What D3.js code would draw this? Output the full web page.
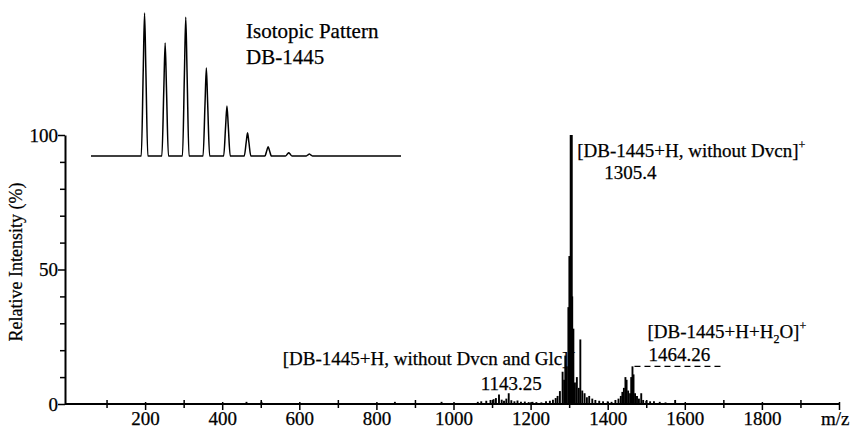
<!DOCTYPE html>
<html>
<head>
<meta charset="utf-8">
<script src="https://cdn.jsdelivr.net/npm/d3@7"></script>
<style>
  body { margin: 0; background: #fff; }
  svg text { font-family: "Liberation Serif", "Times New Roman", serif; fill: #000; stroke: #000; stroke-width: 0.25; }
</style>
</head>
<body>
<svg id="chart" width="852" height="433"></svg>
<script>
// spectrum sticks (m/z, relative intensity %)
var mz = [463, 502, 848, 969,
  1063, 1072, 1085, 1096, 1104, 1110, 1118, 1125, 1131, 1137, 1143.25, 1150, 1158, 1166, 1175, 1185, 1195, 1205, 1215, 1228, 1240, 1250,
  1258, 1265, 1270, 1276, 1283, 1287, 1290, 1294, 1298, 1302, 1305.4, 1308, 1311, 1315, 1320, 1325, 1329, 1334, 1340, 1346, 1352, 1360, 1368, 1378, 1388, 1400, 1410,
  1420, 1428, 1434, 1438, 1442, 1446, 1449, 1453, 1458, 1461, 1464.26, 1467, 1471, 1476, 1481, 1487, 1492, 1500, 1510, 1520, 1535, 1550, 1575];
var intensity = [0.8, 0.8, 0.8, 0.8,
  0.8, 1.0, 1.2, 1.5, 1.8, 2.2, 3.5, 1.6, 1.2, 2.0, 4.0, 1.4, 1.0, 1.3, 0.8, 0.9, 0.7, 0.8, 0.7, 0.6, 1.0, 1.2,
  1.6, 2.2, 3.0, 4.8, 12, 9, 18, 14, 36, 55, 100, 40, 28, 8, 10, 6, 24, 5, 4, 2.5, 3, 2, 1.5, 1.2, 1.0, 1.0, 0.8,
  1.5, 2.0, 3.0, 4.5, 6, 10, 9, 5, 4, 10, 14, 11, 4, 3, 2, 4, 1.5, 1.2, 1.0, 1.0, 0.8, 0.6, 1.5];

// isotopic pattern inset
var isoMass = [1445, 1446, 1447, 1448, 1449, 1450, 1451, 1452, 1453];
var isoAbund = [100, 79, 97, 61.5, 35, 16.3, 6.5, 2.3, 1.4];

var xTicksMajor = [200, 400, 600, 800, 1000, 1200, 1400, 1600, 1800, 2000];
var xTicksMinor = [100, 300, 500, 700, 900, 1100, 1300, 1500, 1700, 1900];
var yTicksMajor = [0, 50, 100];
var yTicksMinor = [10, 20, 30, 40, 60, 70, 80, 90];

var svg = d3.select("#chart");

var x = d3.scaleLinear().domain([0, 2000]).range([68, 839]);
var y = d3.scaleLinear().domain([0, 100]).range([404, 135]);

// axes
var xAxis = svg.append("g").attr("transform", "translate(0," + y(0) + ")");
xAxis.call(d3.axisBottom(x).tickValues(xTicksMajor).tickSize(6).tickSizeOuter(0)
    .tickFormat(function(d) { return d === 2000 ? "m/z" : d; }));
xAxis.select(".domain").attr("d", "M65,0H839").attr("stroke-width", 2);
xAxis.selectAll(".tick text").attr("font-size", 19).attr("dy", "0.85em").attr("y", 5);
// the unit label sits where the last tick label would be, kept inside the frame
xAxis.selectAll(".tick text").filter(function(d) { return d === 2000; })
    .attr("text-anchor", "end").attr("x", 10);
xAxis.selectAll(".tick line").attr("y1", -2).attr("stroke-width", 1.5);

var xMinor = svg.append("g").attr("transform", "translate(0," + y(0) + ")");
xMinor.call(d3.axisBottom(x).tickValues(xTicksMinor).tickSize(4).tickFormat(""));
xMinor.select(".domain").remove();
xMinor.selectAll(".tick line").attr("y1", -4).attr("stroke-width", 1.5);

var yAxis = svg.append("g").attr("transform", "translate(65,0)");
yAxis.call(d3.axisLeft(y).tickValues(yTicksMajor).tickSize(7).tickSizeOuter(0));
yAxis.select(".domain").attr("stroke-width", 2);
yAxis.selectAll(".tick text").attr("font-size", 19).attr("x", -7);
yAxis.selectAll(".tick line").attr("stroke-width", 1.5);

var yMinor = svg.append("g").attr("transform", "translate(65,0)");
yMinor.call(d3.axisLeft(y).tickValues(yTicksMinor).tickSize(5).tickFormat(""));
yMinor.select(".domain").remove();
yMinor.selectAll(".tick line").attr("stroke-width", 1.5);

svg.append("text")
    .attr("transform", "translate(22,262) rotate(-90)")
    .attr("text-anchor", "middle")
    .attr("font-size", 18)
    .text("Relative Intensity (%)");

// spectrum
svg.append("g").selectAll("line")
    .data(mz)
  .enter().append("line")
    .attr("x1", function(d) { return x(d); })
    .attr("x2", function(d) { return x(d); })
    .attr("y1", y(0))
    .attr("y2", function(d, i) { return y(intensity[i]); })
    .attr("stroke", "#000")
    .attr("stroke-width", function(d, i) { return intensity[i] >= 50 ? 3 : 1.9; });

// annotations
svg.append("text")
    .attr("x", x(1305.4) + 6).attr("y", 157)
    .attr("font-size", 19)
    .text("[DB-1445+H, without Dvcn]")
  .append("tspan").attr("font-size", 12).attr("dy", -8).text("+");
svg.append("text")
    .attr("x", x(1305.4) + 33).attr("y", 179)
    .attr("font-size", 19)
    .text("1305.4");

svg.append("text")
    .attr("x", x(1305.4) + 4).attr("y", 365)
    .attr("text-anchor", "end")
    .attr("font-size", 19)
    .text("[DB-1445+H, without Dvcn and Glc]")
  .append("tspan").attr("font-size", 12).attr("dy", -8).text("+");
svg.append("text")
    .attr("x", x(1143.25) - 28).attr("y", 390)
    .attr("font-size", 19)
    .text("1143.25");

var h2o = svg.append("text")
    .attr("x", x(1464.26) + 15).attr("y", 338)
    .attr("font-size", 19)
    .text("[DB-1445+H+H");
h2o.append("tspan").attr("font-size", 12).attr("dy", 5).text("2");
h2o.append("tspan").attr("dy", -5).text("O]");
h2o.append("tspan").attr("font-size", 12).attr("dy", -8).text("+");
svg.append("text")
    .attr("x", x(1464.26) + 16).attr("y", 361)
    .attr("font-size", 19)
    .text("1464.26");

svg.append("line")
    .attr("x1", x(1464.26) + 2).attr("x2", x(1695))
    .attr("y1", y(14)).attr("y2", y(14))
    .attr("stroke", "#000").attr("stroke-width", 1.3)
    .attr("stroke-dasharray", "6,4");

// inset: isotopic pattern
var ix = d3.scaleLinear().domain([1442.4, 1457.45]).range([91, 401]);
var iy = d3.scaleLinear().domain([0, 100]).range([156, 13]);
var halfW = 0.16;
var pts = [[ix.domain()[0], 0]];
isoMass.forEach(function(m, i) {
    pts.push([m - halfW, 0], [m - halfW * 0.4, isoAbund[i] * 0.6], [m, isoAbund[i]], [m + halfW * 0.4, isoAbund[i] * 0.6], [m + halfW, 0]);
});
pts.push([ix.domain()[1], 0]);
var isoLine = d3.line()
    .x(function(d) { return ix(d[0]); })
    .y(function(d) { return iy(d[1]); })
    .curve(d3.curveMonotoneX);
svg.append("path")
    .datum(pts)
    .attr("d", isoLine)
    .attr("fill", "none")
    .attr("stroke", "#000")
    .attr("stroke-width", 1.5);

svg.append("text").attr("x", 246).attr("y", 38).attr("font-size", 21).text("Isotopic Pattern");
svg.append("text").attr("x", 246).attr("y", 64).attr("font-size", 21).text("DB-1445");
</script>
</body>
</html>
